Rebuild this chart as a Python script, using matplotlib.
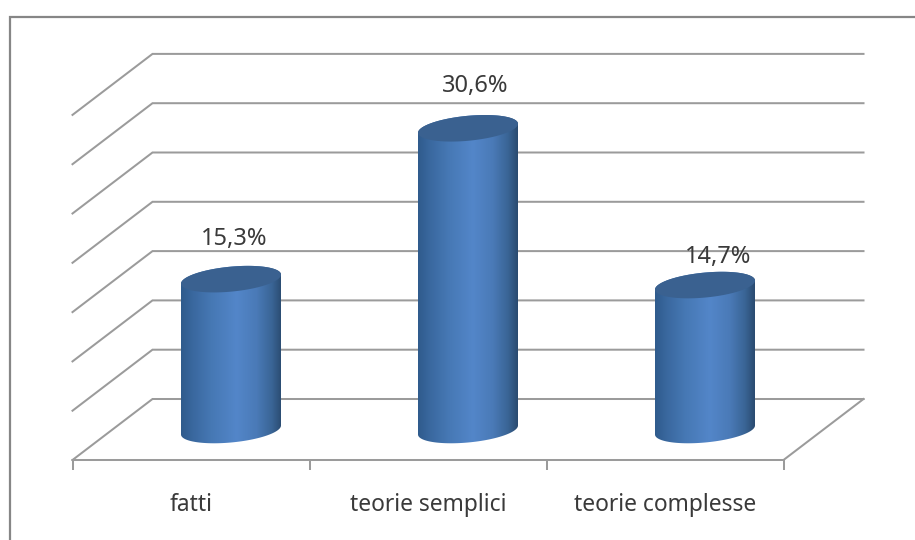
import numpy as np
import matplotlib
matplotlib.use("Agg")
import matplotlib.pyplot as plt
from matplotlib.colors import LinearSegmentedColormap
from matplotlib.lines import Line2D
from matplotlib.patches import Polygon

categories = ["fatti", "teorie semplici", "teorie complesse"]
values = [15.3, 30.6, 14.7]
value_labels = ["15,3%", "30,6%", "14,7%"]
grid_levels = [0, 5, 10, 15, 20, 25, 30, 35]

W, H = 915, 540
CAT_PX = 237.0      # width of one category
UNIT_PX = 9.86      # height of one percentage point
X0_PX = 231.0       # cylinder axis of the first category
Y0_PX = 430.0       # cylinder base line
GRID = "#9b9b9b"
TEXT = "#3a3a3a"
FONT = "Noto Sans"

fig = plt.figure(figsize=(W / 100, H / 100), dpi=100, facecolor="white")
ax = fig.add_axes([0, 0, 1, 1])
ax.set_axis_off()
xlim = (-X0_PX / CAT_PX, (W - X0_PX) / CAT_PX)
ylim = ((Y0_PX - H) / UNIT_PX, Y0_PX / UNIT_PX)

# offsets of the 3D planes relative to the plane that holds the cylinders
front = (-40 / CAT_PX, -30 / UNIT_PX)
back = (40 / CAT_PX, 31 / UNIT_PX)
left_edge = -0.5
right_edge = len(categories) - 0.5
line_kw = dict(color=GRID, lw=1.45, solid_capstyle="projecting", zorder=1)

# wall gridlines with their diagonal on the side wall
for level in grid_levels:
    y = level + back[1]
    ax.plot([left_edge + front[0], left_edge + back[0], right_edge + back[0]],
            [level + front[1], y, y], solid_joinstyle="miter", **line_kw)

# floor outline and category ticks
ax.plot([left_edge + front[0], right_edge + front[0], right_edge + back[0]],
        [front[1], front[1], back[1]], **line_kw)
for i in range(len(categories) + 1):
    tx = left_edge + front[0] + i
    ax.plot([tx, tx], [front[1], front[1] - 10 / UNIT_PX],
            color=GRID, lw=1.45, solid_capstyle="butt", zorder=1)

shade = LinearSegmentedColormap.from_list(
    "cyl", [(0.0, "#2f5b8c"), (0.12, "#3a689f"), (0.3, "#4678b4"),
            (0.55, "#5386c9"), (0.75, "#4a7ab7"), (0.9, "#3a6596"),
            (1.0, "#2a4b70")])
grad = np.linspace(0, 1, 256).reshape(1, -1)

A_PX, B_PX, TILT_PX = 50.0, 12.5, 4.5
t = np.linspace(0, 2 * np.pi, 121)


def rim(cx, level):
    # tilted elliptical rim in data coordinates
    xs = cx + A_PX * np.cos(t) / CAT_PX
    ys = level + (B_PX * np.sin(t) + TILT_PX * np.cos(t)) / UNIT_PX
    return xs, ys


label_offsets = [(3, 40), (7, 42), (13, 28)]
for i, val in enumerate(values):
    xb, yb = rim(i, 0)
    xt, yt = rim(i, val)
    upper = t <= np.pi
    lower = t >= np.pi
    # body outline: lower half of the base rim, then upper half of the top rim
    bx = np.concatenate([xb[lower], xt[upper]])
    by = np.concatenate([yb[lower], yt[upper]])
    outline = Polygon(np.column_stack([bx, by]), closed=True,
                      transform=ax.transData, fc="none", ec="none")
    ax.add_patch(outline)
    im = ax.imshow(grad, cmap=shade, aspect="auto", zorder=2,
                   extent=(i - A_PX / CAT_PX, i + A_PX / CAT_PX, -5, val + 5))
    im.set_clip_path(outline)
    ax.fill(xt, yt, color="#3a6190", lw=0, zorder=3)

    ax.annotate(value_labels[i], (i, val),
                xytext=(label_offsets[i][0] * 0.72, label_offsets[i][1] * 0.72),
                textcoords="offset points", ha="center", va="center",
                fontsize=17, color=TEXT, family=FONT, zorder=5)

for i, name in enumerate(categories):
    ax.text(i + front[0], front[1] - 45 / UNIT_PX, name, ha="center", va="center",
            fontsize=16.4, color=TEXT, family=FONT)

ax.set_xlim(*xlim)
ax.set_ylim(*ylim)

# chart frame, open towards the bottom and right image edges
fx = lambda p: p / W
fy = lambda p: 1 - p / H
fig.add_artist(Line2D([fx(10), fx(10), fx(915)], [fy(540), fy(17), fy(17)],
                      color="#868686", lw=1.6, solid_joinstyle="miter"))

fig.savefig("out.png", dpi=100)
